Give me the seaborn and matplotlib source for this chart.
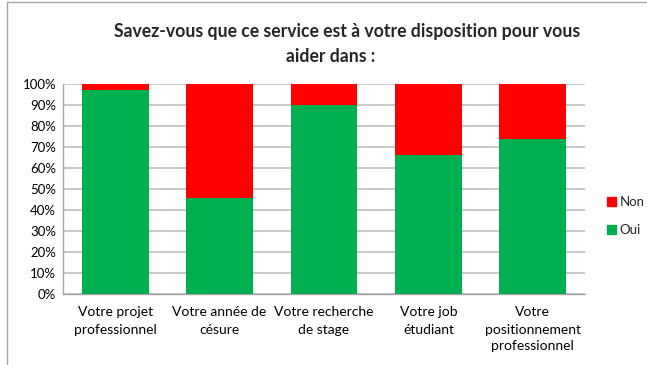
import matplotlib
matplotlib.use("Agg")
import matplotlib.pyplot as plt
import matplotlib.patches as mpatches
import seaborn as sns
import pandas as pd

categories = [
    "Votre projet\nprofessionnel",
    "Votre année de\ncésure",
    "Votre recherche\nde stage",
    "Votre job\nétudiant",
    "Votre\npositionnement\nprofessionnel",
]
oui = [97.3, 45.6, 90.0, 66.0, 73.8]
non = [2.7, 54.4, 10.0, 34.0, 26.2]

GREEN = "#00B050"
RED = "#FF0000"

sns.set_theme(style="white")
plt.rcParams["font.family"] = ["Lato", "DejaVu Sans"]

df = pd.DataFrame({"cat": categories, "oui": oui, "non": non})
df["total"] = df["oui"] + df["non"]

fig = plt.figure(figsize=(6.47, 3.65), dpi=100)
ax = fig.add_axes([63 / 647, 1 - 294 / 365, (585 - 63) / 647, 210 / 365])

# stacked bars: full height in red, Oui share drawn over it in green
sns.barplot(data=df, x="cat", y="total", color=RED, width=0.64, ax=ax,
            saturation=1, linewidth=0, zorder=2)
sns.barplot(data=df, x="cat", y="oui", color=GREEN, width=0.64, ax=ax,
            saturation=1, linewidth=0, zorder=3)

ax.set_ylim(0, 100)
ax.set_xlim(-0.5, 4.5)
ax.set_yticks(range(0, 101, 10))
ax.set_yticklabels([f"{v}%" for v in range(0, 101, 10)], fontsize=9.5,
                   color="#000000")
ax.set_xticks(range(len(categories)))
ax.set_xticklabels(categories, fontsize=10, color="#000000", linespacing=1.5)
ax.set_xlabel("")
ax.set_ylabel("")
ax.tick_params(axis="both", length=0, pad=5)
ax.tick_params(axis="x", pad=9)

ax.yaxis.grid(True, color="#BFBFBF", linewidth=1.2, zorder=0)
ax.set_axisbelow(True)
for side in ["top", "right"]:
    ax.spines[side].set_visible(False)
for side in ["left", "bottom"]:
    ax.spines[side].set_color("#A6A6A6")
    ax.spines[side].set_linewidth(1.0)

fig.text(347 / 647, 1 - 31 / 365,
         "Savez-vous que ce service est à votre disposition pour vous",
         ha="center", va="center", fontsize=12.7, fontweight="bold")
fig.text(331 / 647, 1 - 56 / 365, "aider dans :",
         ha="center", va="center", fontsize=12.7, fontweight="bold")

handles = [mpatches.Patch(color=RED, label="Non"),
           mpatches.Patch(color=GREEN, label="Oui")]
fig.legend(handles=handles, loc="center left",
           bbox_to_anchor=(600 / 647, 1 - 216 / 365), frameon=False,
           fontsize=9.5, handlelength=0.7, handleheight=0.7,
           handletextpad=0.3, labelspacing=1.2, borderpad=0)

# outer chart frame
frame = mpatches.Rectangle((7 / 647, -0.05), 1.2, 1 - 2 / 365 + 0.05,
                           transform=fig.transFigure, fill=False,
                           edgecolor="#A6A6A6", linewidth=1.0)
fig.patches.append(frame)

fig.savefig("out.png", dpi=100)
